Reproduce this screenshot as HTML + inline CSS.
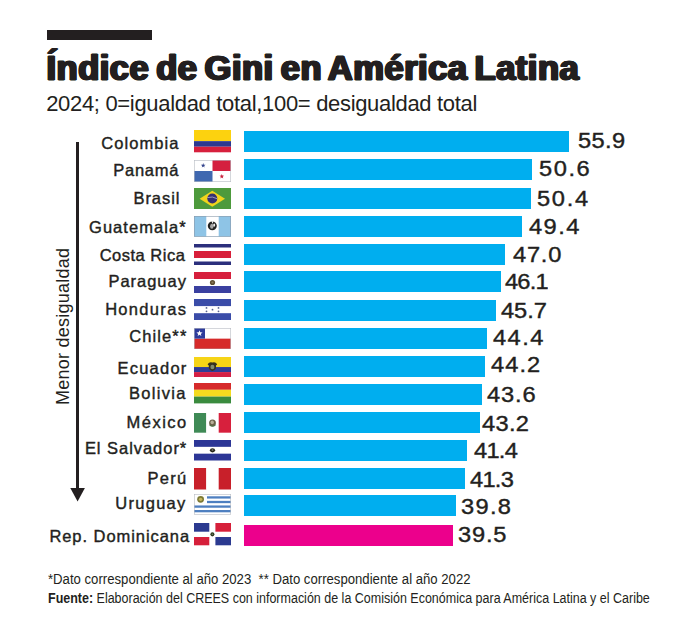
<!DOCTYPE html>
<html><head><meta charset="utf-8"><style>
html,body{margin:0;padding:0;background:#fff;}
body{width:696px;height:641px;position:relative;overflow:hidden;font-family:"Liberation Sans",sans-serif;color:#231f20;}
.a{position:absolute;white-space:nowrap;}
.bar{position:absolute;left:244px;height:21px;background:#00aeef;}
.flag{position:absolute;left:194px;width:37px;height:21px;}
.flag svg{display:block;}
.lab{position:absolute;white-space:nowrap;font-size:16.5px;font-weight:normal;letter-spacing:1.1px;line-height:20px;height:20px;text-align:right;-webkit-text-stroke:0.4px #231f20;color:#231f20;}
.val{position:absolute;white-space:nowrap;font-size:21.5px;line-height:24px;height:24px;-webkit-text-stroke:0.4px #231f20;transform-origin:0 0;transform:scaleX(1.1);}
</style></head><body>

<div class="a" style="left:47px;top:30px;width:105px;height:10px;background:#231f20"></div>
<div class="a" style="left:46.5px;top:49.41px;font-size:34.5px;line-height:39.67px;font-weight:bold;letter-spacing:0.49999999999996914px;word-spacing:-3px;-webkit-text-stroke:1.2px #231f20;text-shadow:1.25px 0 0 #231f20, -1.25px 0 0 #231f20, 0.62px 0 0 #231f20, -0.62px 0 0 #231f20">Índice de Gini en América Latina</div>
<div class="a" style="left:46.20000000000006px;top:91.03px;font-size:22px;line-height:25.30px;letter-spacing:-0.3204545454545343px;">2024; 0=igualdad total,100= desigualdad total</div>
<div class="bar" style="top:131px;width:325.2px;background:#00aeef"></div>
<div class="flag" style="top:130.3px;height:22.3px"><svg width="37" height="21" viewBox="0 0 37 21" preserveAspectRatio="none" style="width:100%;height:100%"><rect width="37" height="10.5" fill="#fcd20f"/><rect y="10.5" width="37" height="5.25" fill="#2b3990"/><rect y="15.75" width="37" height="5.25" fill="#d7203d"/></svg></div>
<div class="lab" style="right:516.43px;top:132.85px;letter-spacing:1.066px">Colombia</div>
<div class="val" style="left:577.60px;top:129.39px;letter-spacing:0.337px">55.9</div>
<div class="bar" style="top:159px;width:287.6px;background:#00aeef"></div>
<div class="flag" style="top:160.3px;height:22.0px"><svg width="37" height="21" viewBox="0 0 37 21" preserveAspectRatio="none" style="width:100%;height:100%"><rect width="37" height="21" fill="#fff"/><rect x="18.5" width="18.5" height="10.5" fill="#d41f3f"/><rect y="10.5" width="18.5" height="10.5" fill="#3f68b0"/><polygon points="9.20,2.90 9.79,4.48 11.48,4.56 10.16,5.61 10.61,7.24 9.20,6.31 7.79,7.24 8.24,5.61 6.92,4.56 8.61,4.48" fill="#34448c"/><polygon points="27.80,13.30 28.39,14.88 30.08,14.96 28.76,16.01 29.21,17.64 27.80,16.71 26.39,17.64 26.84,16.01 25.52,14.96 27.21,14.88" fill="#c8203c"/><rect x="0.3" y="0.3" width="36.4" height="20.4" fill="none" stroke="#b8bcc4" stroke-width="0.6"/></svg></div>
<div class="lab" style="right:516.72px;top:159.95px;letter-spacing:0.78px">Panamá</div>
<div class="val" style="left:539.40px;top:157.39px;letter-spacing:1.406px">50.6</div>
<div class="bar" style="top:188px;width:287.3px;background:#00aeef"></div>
<div class="flag" style="top:187.5px;height:21.4px"><svg width="37" height="21" viewBox="0 0 37 21" preserveAspectRatio="none" style="width:100%;height:100%"><rect width="37" height="21" fill="#4d9a3c"/><polygon points="18.3,2.6 31,10.5 18.3,18.4 5.6,10.5" fill="#f1d41c"/><circle cx="18.3" cy="10.3" r="5" fill="#352f72"/><path d="M13.5 9.4 Q18.5 7.8 23.1 10.5" stroke="#c8c8dc" stroke-width="0.7" fill="none"/></svg></div>
<div class="lab" style="right:515.54px;top:187.65px;letter-spacing:0.96px">Brasil</div>
<div class="val" style="left:537.00px;top:186.59px;letter-spacing:1.564px">50.4</div>
<div class="bar" style="top:216px;width:278.0px;background:#00aeef"></div>
<div class="flag" style="top:216.2px;height:20.7px"><svg width="37" height="21" viewBox="0 0 37 21" preserveAspectRatio="none" style="width:100%;height:100%"><rect width="37" height="21" fill="#8ec4e6"/><rect x="12.3" width="12.4" height="21" fill="#fff"/><ellipse cx="18.3" cy="10" rx="4.5" ry="4.4" fill="#222"/><path d="M17.6 5.4 L18.6 8 L19.4 5.4Z" fill="#fff"/><ellipse cx="17.8" cy="10.4" rx="1.7" ry="2.6" fill="#a8a8a8"/><ellipse cx="20.2" cy="9.2" rx="1" ry="1.6" fill="#eee"/><rect x="0.3" y="0.3" width="36.4" height="20.4" fill="none" stroke="#8a9aaa" stroke-width="0.6"/></svg></div>
<div class="lab" style="right:509.24px;top:217.45px;letter-spacing:1.064px">Guatemala*</div>
<div class="val" style="left:529.20px;top:214.99px;letter-spacing:1.302px">49.4</div>
<div class="bar" style="top:244px;width:261.3px;background:#00aeef"></div>
<div class="flag" style="top:243.5px;height:21.0px"><svg width="37" height="21" viewBox="0 0 37 21" preserveAspectRatio="none" style="width:100%;height:100%"><rect width="37" height="21" fill="#fff"/><rect width="37" height="3.5" fill="#2b2f7c"/><rect y="17.5" width="37" height="3.5" fill="#2b2f7c"/><rect y="7" width="37" height="7" fill="#d81f3a"/></svg></div>
<div class="lab" style="right:510.60px;top:245.45px;letter-spacing:0.505px">Costa Rica</div>
<div class="val" style="left:512.60px;top:242.69px;letter-spacing:0.705px">47.0</div>
<div class="bar" style="top:271px;width:256.6px;background:#00aeef"></div>
<div class="flag" style="top:271.9px;height:21.0px"><svg width="37" height="21" viewBox="0 0 37 21" preserveAspectRatio="none" style="width:100%;height:100%"><rect width="37" height="21" fill="#fff"/><rect width="37" height="7" fill="#d61f3c"/><rect y="14" width="37" height="7" fill="#3a40a0"/><circle cx="18.5" cy="10.5" r="2.6" fill="#5e4e32"/><circle cx="18.5" cy="10.5" r="1.1" fill="#8a7a5a"/></svg></div>
<div class="lab" style="right:509.13px;top:271.25px;letter-spacing:0.974px">Paraguay</div>
<div class="val" style="left:505.00px;top:270.49px;letter-spacing:-0.733px">46.1</div>
<div class="bar" style="top:300px;width:252.3px;background:#00aeef"></div>
<div class="flag" style="top:299.0px;height:21.3px"><svg width="37" height="21" viewBox="0 0 37 21" preserveAspectRatio="none" style="width:100%;height:100%"><rect width="37" height="21" fill="#fff"/><rect width="37" height="7" fill="#3a4ca8"/><rect y="14" width="37" height="7" fill="#3a4ca8"/><g fill="#5a6490"><circle cx="12.5" cy="8.8" r="0.9"/><circle cx="12.5" cy="12.2" r="0.9"/><circle cx="18.5" cy="10.5" r="0.9"/><circle cx="24.5" cy="8.8" r="0.9"/><circle cx="24.5" cy="12.2" r="0.9"/></g></svg></div>
<div class="lab" style="right:508.78px;top:298.95px;letter-spacing:1.318px">Honduras</div>
<div class="val" style="left:501.00px;top:298.79px;letter-spacing:-0.067px">45.7</div>
<div class="bar" style="top:328px;width:243.3px;background:#00aeef"></div>
<div class="flag" style="top:327.6px;height:21.3px"><svg width="37" height="21" viewBox="0 0 37 21" preserveAspectRatio="none" style="width:100%;height:100%"><rect width="37" height="10.5" fill="#fff"/><rect y="10.5" width="37" height="10.5" fill="#d62a2a"/><rect width="11" height="10.5" fill="#2e3c9c"/><polygon points="5.50,2.20 6.29,4.31 8.54,4.41 6.78,5.82 7.38,7.99 5.50,6.74 3.62,7.99 4.22,5.82 2.46,4.41 4.71,4.31" fill="#fff"/><rect x="0.3" y="0.3" width="36.4" height="20.4" fill="none" stroke="#b8bcc4" stroke-width="0.6"/></svg></div>
<div class="lab" style="right:508.59px;top:326.15px;letter-spacing:1.114px">Chile**</div>
<div class="val" style="left:493.40px;top:325.99px;letter-spacing:1.301px">44.4</div>
<div class="bar" style="top:356px;width:241.3px;background:#00aeef"></div>
<div class="flag" style="top:356.8px;height:20.1px"><svg width="37" height="21" viewBox="0 0 37 21" preserveAspectRatio="none" style="width:100%;height:100%"><rect width="37" height="10.5" fill="#f6d417"/><rect y="10.5" width="37" height="5.25" fill="#2f3c96"/><rect y="15.75" width="37" height="5.25" fill="#d41f44"/><path d="M13.6 7.6 Q15.6 4.4 18.4 5.8 Q21.2 4.4 23.2 7.6 Q22.6 8.6 22 8.8 Q22.6 13.6 18.4 14.6 Q14.2 13.6 14.8 8.8 Q14.2 8.6 13.6 7.6Z" fill="#37321e"/><ellipse cx="18.4" cy="10.4" rx="2" ry="2.4" fill="#7f8a6e"/></svg></div>
<div class="lab" style="right:508.48px;top:357.75px;letter-spacing:1.221px">Ecuador</div>
<div class="val" style="left:491.40px;top:353.39px;letter-spacing:0.968px">44.2</div>
<div class="bar" style="top:384px;width:238.0px;background:#00aeef"></div>
<div class="flag" style="top:383.3px;height:20.4px"><svg width="37" height="21" viewBox="0 0 37 21" preserveAspectRatio="none" style="width:100%;height:100%"><rect width="37" height="7" fill="#d62a2b"/><rect y="7" width="37" height="7" fill="#f4db1f"/><rect y="14" width="37" height="7" fill="#3a8b3e"/></svg></div>
<div class="lab" style="right:509.42px;top:382.85px;letter-spacing:1.281px">Bolivia</div>
<div class="val" style="left:486.60px;top:382.59px;letter-spacing:0.798px">43.6</div>
<div class="bar" style="top:412px;width:235.7px;background:#00aeef"></div>
<div class="flag" style="top:413.0px;height:19.7px"><svg width="37" height="21" viewBox="0 0 37 21" preserveAspectRatio="none" style="width:100%;height:100%"><rect width="12.3" height="21" fill="#3f8a56"/><rect x="12.3" width="12.4" height="21" fill="#fff"/><rect x="24.7" width="12.3" height="21" fill="#d7203d"/><ellipse cx="18.5" cy="10.6" rx="3.4" ry="3.8" fill="#6a6048"/><ellipse cx="18.2" cy="10" rx="1.7" ry="1.9" fill="#b8b098"/><path d="M15.6 13.2 Q18.5 15.2 21.4 13.2" stroke="#4a7a4a" stroke-width="1" fill="none"/></svg></div>
<div class="lab" style="right:508.18px;top:411.55px;letter-spacing:1.52px">México</div>
<div class="val" style="left:482.00px;top:412.29px;letter-spacing:0.266px">43.2</div>
<div class="bar" style="top:440px;width:222.8px;background:#00aeef"></div>
<div class="flag" style="top:440.1px;height:20.5px"><svg width="37" height="21" viewBox="0 0 37 21" preserveAspectRatio="none" style="width:100%;height:100%"><rect width="37" height="21" fill="#fff"/><rect width="37" height="7" fill="#2c3696"/><rect y="14" width="37" height="7" fill="#2c3696"/><ellipse cx="18.5" cy="10.6" rx="2.6" ry="2.2" fill="#26261a"/><ellipse cx="18.5" cy="10.3" rx="1" ry="0.8" fill="#888"/></svg></div>
<div class="lab" style="right:508.74px;top:437.55px;letter-spacing:0.965px">El Salvador*</div>
<div class="val" style="left:474.40px;top:439.29px;letter-spacing:-0.663px">41.4</div>
<div class="bar" style="top:468px;width:220.5px;background:#00aeef"></div>
<div class="flag" style="top:468.3px;height:21.5px"><svg width="37" height="21" viewBox="0 0 37 21" preserveAspectRatio="none" style="width:100%;height:100%"><rect width="12.3" height="21" fill="#c8202a"/><rect x="12.3" width="12.4" height="21" fill="#fff"/><rect x="24.7" width="12.3" height="21" fill="#c8202a"/></svg></div>
<div class="lab" style="right:508.37px;top:467.55px;letter-spacing:1.33px">Perú</div>
<div class="val" style="left:470.20px;top:467.69px;letter-spacing:-0.664px">41.3</div>
<div class="bar" style="top:495px;width:211.8px;background:#00aeef"></div>
<div class="flag" style="top:494.3px;height:20.6px"><svg width="37" height="21" viewBox="0 0 37 21" preserveAspectRatio="none" style="width:100%;height:100%"><rect width="37" height="21" fill="#fff"/><rect x="13" y="2.33" width="24" height="2.33" fill="#4e7fc0"/><rect x="13" y="7.00" width="24" height="2.33" fill="#4e7fc0"/><rect x="0" y="11.67" width="37" height="2.33" fill="#4e7fc0"/><rect x="0" y="16.33" width="37" height="2.33" fill="#4e7fc0"/><circle cx="6.6" cy="5.4" r="3.4" fill="#7d7a34"/><circle cx="6.6" cy="5.4" r="1.7" fill="#c8b65c"/><rect x="0.3" y="0.3" width="36.4" height="20.4" fill="none" stroke="#b8bcc4" stroke-width="0.6"/></svg></div>
<div class="lab" style="right:509.43px;top:493.15px;letter-spacing:1.267px">Uruguay</div>
<div class="val" style="left:460.60px;top:494.99px;letter-spacing:1.197px">39.8</div>
<div class="bar" style="top:525px;width:208.8px;background:#ec008c"></div>
<div class="flag" style="top:523.4px;height:22.3px"><svg width="37" height="21" viewBox="0 0 37 21" preserveAspectRatio="none" style="width:100%;height:100%"><rect width="37" height="21" fill="#fff"/><rect width="15.3" height="8.2" fill="#2b3a90"/><rect x="21.4" width="15.6" height="8.2" fill="#d61f3a"/><rect y="13.2" width="15.3" height="7.8" fill="#d61f3a"/><rect x="21.4" y="13.2" width="15.6" height="7.8" fill="#2b3a90"/><circle cx="18.4" cy="10.6" r="2" fill="#2e3a1e"/><circle cx="18.4" cy="10.6" r="0.8" fill="#6a7a5a"/></svg></div>
<div class="lab" style="right:505.96px;top:525.55px;letter-spacing:0.939px">Rep. Dominicana</div>
<div class="val" style="left:457.80px;top:523.09px;letter-spacing:0.737px">39.5</div>
<div class="a" style="left:76px;top:142px;width:3.4px;height:350px;background:#231f20"></div>
<svg class="a" style="left:0;top:0" width="696" height="641"><polygon points="70.3,488 84.9,488 77.6,501.5" fill="#231f20"/></svg>
<div class="a" style="left:69.8px;top:405px;transform-origin:0 0;transform:rotate(-90deg);"><div style="position:absolute;left:0;top:-16.59px;font-size:18px;line-height:20.70px;letter-spacing:0.24px;white-space:nowrap">Menor desigualdad</div></div>
<div class="a" style="left:48px;top:570.50px;font-size:14px;line-height:16.10px;transform-origin:0 0;transform:scaleX(0.9392692032778579);">*Dato correspondiente al año 2023&nbsp; ** Dato correspondiente al año 2022</div>
<div class="a" style="left:48px;top:590.30px;font-size:14px;line-height:16.10px;transform-origin:0 0;transform:scaleX(0.8920435833320661);"><b>Fuente:</b> Elaboración del CREES con información de la Comisión Económica para América Latina y el Caribe</div>
</body></html>
